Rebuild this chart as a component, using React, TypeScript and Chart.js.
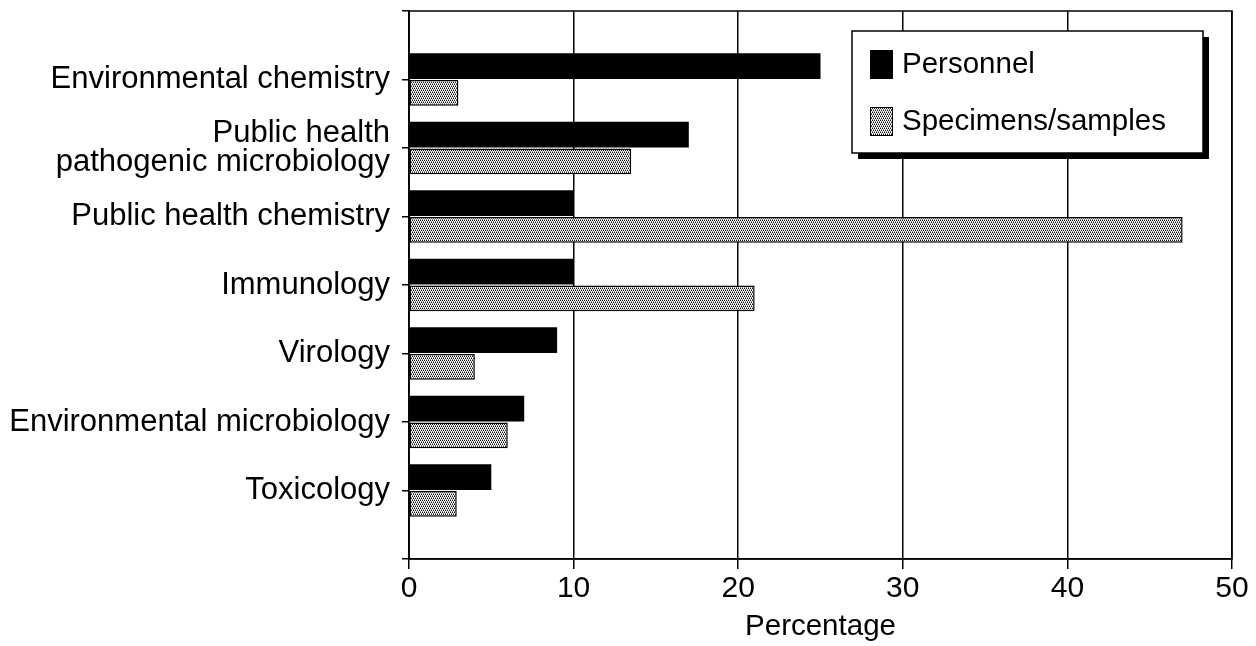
import React, { useEffect, useRef } from "react";
import { Chart, registerables } from "chart.js";

Chart.register(...registerables);

// ---- data ----
const categories: (string | string[])[] = [
  "Environmental chemistry",
  ["Public health", "pathogenic microbiology"],
  "Public health chemistry",
  "Immunology",
  "Virology",
  "Environmental microbiology",
  "Toxicology",
];
const personnel = [25, 17, 10, 10, 9, 7, 5];
const specimens = [3, 13.5, 47, 21, 4, 6, 2.9];
const seriesNames = ["Personnel", "Specimens/samples"];
const xMin = 0;
const xMax = 50;
const xStep = 10;
const xTitle = "Percentage";

const FONT = '"Liberation Sans", Arial, Helvetica, sans-serif';

function makePattern(): CanvasPattern | string {
  const c = document.createElement("canvas");
  c.width = 4;
  c.height = 4;
  const g = c.getContext("2d");
  if (!g) return "#aaaaaa";
  g.fillStyle = "#ffffff";
  g.fillRect(0, 0, 4, 4);
  g.fillStyle = "#111111";
  [[0, 0], [2, 0], [1, 2], [3, 2]].forEach(([x, y]) => g.fillRect(x, y, 1, 1));
  g.fillStyle = "#808080";
  [[1, 1], [3, 1], [0, 3], [2, 3]].forEach(([x, y]) => g.fillRect(x, y, 1, 1));
  const p = g.createPattern(c, "repeat");
  return p || "#aaaaaa";
}

export default function App() {
  const ref = useRef<HTMLCanvasElement | null>(null);

  useEffect(() => {
    if (!ref.current) return;
    const pattern = makePattern();
    const labels = ["", ...categories, ""];
    const d1 = [null, ...personnel, null];
    const d2 = [null, ...specimens, null];

    const framePlugin = {
      id: "frameLegend",
      afterDraw(chart: any) {
        const { ctx, chartArea: a } = chart;
        ctx.save();
        ctx.strokeStyle = "#000";
        ctx.lineWidth = 1.5;
        ctx.strokeRect(a.left, a.top, a.right - a.left, a.bottom - a.top);
        // legend box with shadow
        const w = 351;
        const h = 122;
        const bx = a.right - 29 - w;
        const by = a.top + 20;
        ctx.fillStyle = "#000";
        ctx.fillRect(bx + 6, by + 6, w, h);
        ctx.fillStyle = "#fff";
        ctx.fillRect(bx, by, w, h);
        ctx.strokeRect(bx, by, w, h);
        chart.data.datasets.forEach((ds: any, i: number) => {
          const y = by + 19 + i * 57;
          ctx.fillStyle = ds.backgroundColor;
          ctx.fillRect(bx + 18, y, 23, 29);
          if (i === 1) {
            ctx.lineWidth = 1;
            ctx.strokeRect(bx + 18.5, y + 0.5, 22, 28);
          }
          ctx.fillStyle = "#000";
          ctx.font = `29.5px ${FONT}`;
          ctx.textBaseline = "middle";
          ctx.textAlign = "left";
          ctx.fillText(ds.label, bx + 50, y + 15);
        });
        ctx.restore();
      },
    };

    const chart = new Chart(ref.current, {
      type: "bar",
      data: {
        labels,
        datasets: [
          {
            label: seriesNames[0],
            data: d1,
            backgroundColor: "#000000",
            borderWidth: 0,
          },
          {
            label: seriesNames[1],
            data: d2,
            backgroundColor: pattern as any,
            borderColor: "#000000",
            borderWidth: 1.5,
            borderSkipped: false,
          },
        ],
      },
      options: {
        indexAxis: "y",
        animation: false,
        responsive: false,
        maintainAspectRatio: false,
        layout: { padding: { top: 11, right: 24, bottom: 0, left: 0 } },
        datasets: {
          bar: { categoryPercentage: 0.775, barPercentage: 0.97 },
        },
        plugins: {
          legend: { display: false },
          tooltip: { enabled: false },
        },
        scales: {
          x: {
            type: "linear",
            min: xMin,
            max: xMax,
            ticks: {
              stepSize: xStep,
              color: "#000",
              padding: 2,
              font: { family: FONT, size: 30 },
            },
            grid: {
              color: "#000",
              lineWidth: 1.5,
              tickLength: 10,
              drawOnChartArea: true,
              drawTicks: true,
            },
            border: { display: true, color: "#000", width: 1.5 },
            title: {
              display: true,
              text: xTitle,
              color: "#000",
              font: { family: FONT, size: 29.5 },
              padding: { top: 0, bottom: 1 },
            },
            afterFit: (s: any) => {
              s.height = 87;
            },
          },
          y: {
            type: "category",
            offset: false,
            ticks: {
              color: "#000",
              padding: 12,
              autoSkip: false,
              font: { family: FONT, size: 31, lineHeight: 0.94 },
            },
            grid: {
              offset: false,
              drawOnChartArea: false,
              drawTicks: true,
              tickLength: 7,
              color: "#000",
              lineWidth: 1.5,
            },
            border: { display: true, color: "#000", width: 1.5 },
            afterFit: (s: any) => {
              s.width = 409;
              s.paddingTop = 0;
              s.paddingBottom = 0;
            },
          },
        },
      },
      plugins: [framePlugin],
    } as any);

    return () => chart.destroy();
  }, []);

  return (
    <div style={{ position: "absolute", left: 0, top: 0, width: 1256, height: 646, background: "#fff" }}>
      <canvas ref={ref} width={1256} height={646} style={{ display: "block" }} />
    </div>
  );
}
